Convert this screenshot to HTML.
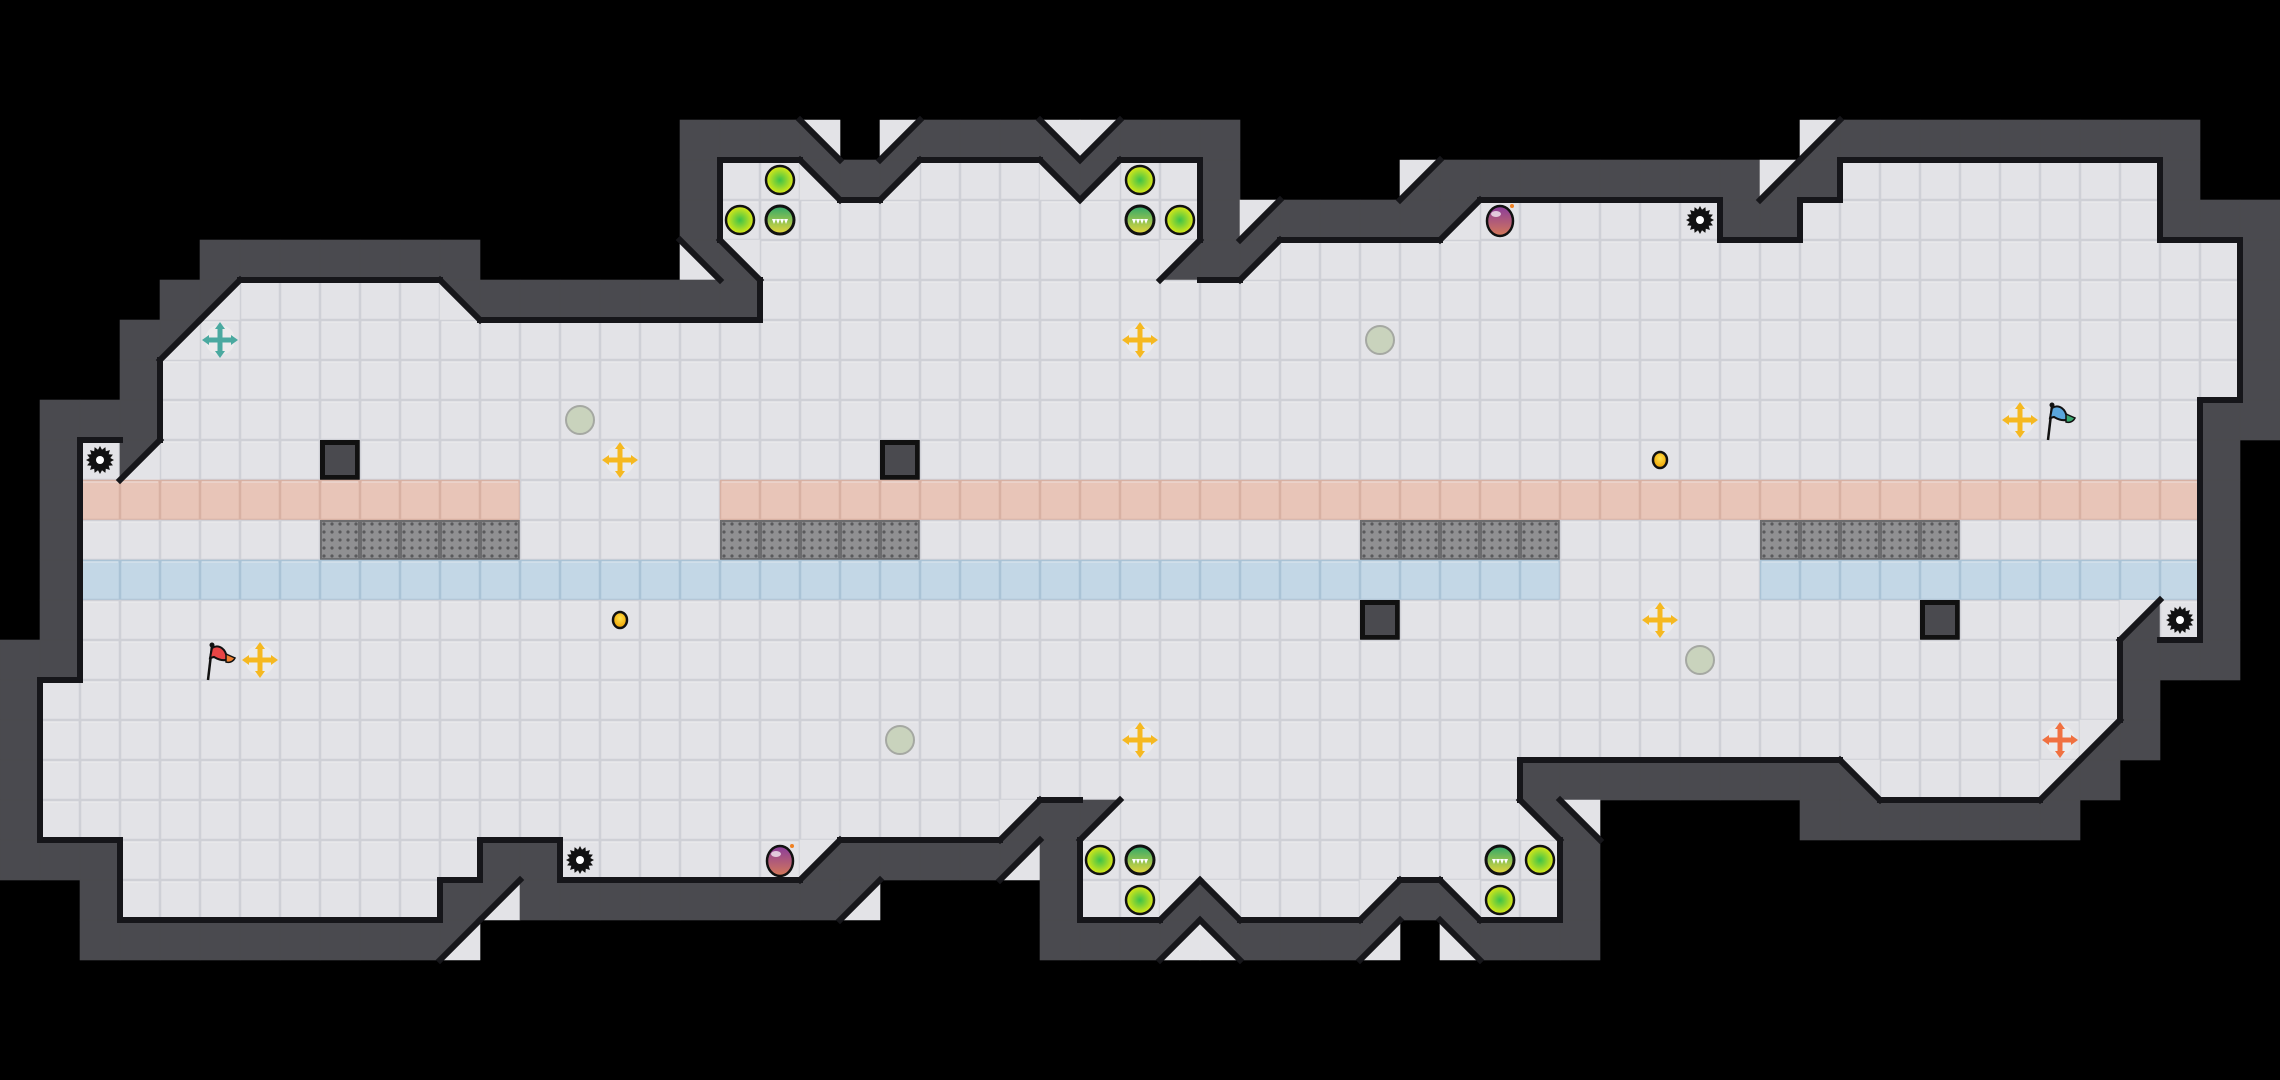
<!DOCTYPE html>
<html><head><meta charset="utf-8">
<style>
html,body{margin:0;padding:0;background:#000;width:2280px;height:1080px;overflow:hidden}
svg{display:block}
</style></head>
<body>
<svg id="s" xmlns="http://www.w3.org/2000/svg" width="2280" height="1080" viewBox="0 0 2280 1080">
<defs>
<pattern id="mesh" width="8" height="8" patternUnits="userSpaceOnUse">
<rect width="8" height="8" fill="#909092"/>
<circle cx="4" cy="4" r="1.6" fill="#5a5a5c"/>
</pattern>
<radialGradient id="lime" cx="50%" cy="50%" r="55%">
<stop offset="0" stop-color="#3cc24a"/><stop offset="1" stop-color="#f0ee10"/>
</radialGradient>
<linearGradient id="grn" x1="0" y1="0" x2="0" y2="1">
<stop offset="0" stop-color="#2fa86a"/><stop offset="1" stop-color="#e8d83a"/>
</linearGradient>
<linearGradient id="bomb" x1="0" y1="0" x2="0" y2="1">
<stop offset="0" stop-color="#8a3c9c"/><stop offset="1" stop-color="#d47858"/>
</linearGradient>
<radialGradient id="coin" cx="50%" cy="40%" r="60%">
<stop offset="0" stop-color="#ffe14a"/><stop offset="1" stop-color="#f0a000"/>
</radialGradient>
</defs>
<rect width="2280" height="1080" fill="#000"/>
<g id="g"></g>
</svg>
<script>
(function(){
var Wd=57,Ht=27,grid=[];
for(var r=0;r<Ht;r++){grid.push([]);for(var c=0;c<Wd;c++)grid[r].push(' ');}
function S(r,segs){segs.forEach(function(s){if(s.length==2){grid[r][s[0]]=s[1];}else{for(var c=s[0];c<=s[1];c++)grid[r][c]=s[2];}});}
S(3,[[17,19,'#'],[20,'A'],[22,'C'],[23,25,'#'],[26,'A'],[27,'C'],[28,30,'#'],[45,'C'],[46,54,'#']]);
S(4,[[17,'#'],[18,19,'.'],[20,'B'],[21,'#'],[22,'D'],[23,25,'.'],[26,'B'],[27,'D'],[28,29,'.'],[30,'#'],[35,'C'],[36,43,'#'],[44,'C'],[45,'#'],[46,53,'.'],[54,'#']]);
S(5,[[17,'#'],[18,29,'.'],[30,'#'],[31,'C'],[32,35,'#'],[36,'D'],[37,42,'.'],[43,44,'#'],[45,53,'.'],[54,56,'#']]);
S(6,[[5,11,'#'],[17,'B'],[18,'A'],[19,28,'.'],[29,'C'],[30,'#'],[31,'D'],[32,55,'.'],[56,'#']]);
S(7,[[4,'#'],[5,'D'],[6,10,'.'],[11,'B'],[12,18,'#'],[19,55,'.'],[56,'#']]);
S(8,[[3,'#'],[4,'D'],[5,55,'.'],[56,'#']]);
S(9,[[3,'#'],[4,55,'.'],[56,'#']]);
S(10,[[1,3,'#'],[4,54,'.'],[55,56,'#']]);
S(11,[[1,'#'],[2,'.'],[3,'D'],[4,54,'.'],[55,'#'],[8,'x'],[22,'x']]);
S(12,[[1,'#'],[2,12,'o'],[13,17,'.'],[18,54,'o'],[55,'#']]);
S(13,[[1,'#'],[2,54,'.'],[8,12,'m'],[18,22,'m'],[34,38,'m'],[44,48,'m'],[55,'#']]);
S(14,[[1,'#'],[2,38,'b'],[39,43,'.'],[44,54,'b'],[55,'#']]);
S(15,[[1,'#'],[2,52,'.'],[53,'C'],[54,'.'],[55,'#'],[34,'x'],[48,'x']]);
S(16,[[0,1,'#'],[2,52,'.'],[53,55,'#']]);
S(17,[[0,'#'],[1,52,'.'],[53,'#']]);
S(18,[[0,'#'],[1,51,'.'],[52,'C'],[53,'#']]);
S(19,[[0,'#'],[1,37,'.'],[38,45,'#'],[46,'A'],[47,50,'.'],[51,'C'],[52,'#']]);
S(20,[[0,'#'],[1,24,'.'],[25,'C'],[26,'#'],[27,'D'],[28,37,'.'],[38,'B'],[39,'A'],[45,51,'#']]);
S(21,[[0,2,'#'],[3,11,'.'],[12,13,'#'],[14,19,'.'],[20,'C'],[21,24,'#'],[25,'D'],[26,'#'],[27,38,'.'],[39,'#']]);
S(22,[[2,'#'],[3,10,'.'],[11,'#'],[12,'D'],[13,20,'#'],[21,'D'],[26,'#'],[27,28,'.'],[29,'C'],[30,'A'],[31,33,'.'],[34,'C'],[35,'#'],[36,'A'],[37,38,'.'],[39,'#']]);
S(23,[[2,10,'#'],[11,'D'],[26,28,'#'],[29,'D'],[30,'B'],[31,33,'#'],[34,'D'],[36,'B'],[37,39,'#']]);

var FL='#e3e3e7',WL='#4a4a4f',out=[];
var fill={'.':[FL,'#cfd0d6'],'o':['#e8c5b8','#d8b1a3'],'b':['#c3d7e6','#aac3d6'],'x':[FL,'#cfd0d6']};
function isF(ch){return '.obmx'.indexOf(ch)>=0;}
var diag={A:['\\','F','W'],B:['\\','W','F'],C:['/','F','W'],D:['/','W','F']};
function col(k){return k=='F'?FL:WL;}
for(var r=0;r<Ht;r++)for(var c=0;c<Wd;c++){
 var ch=grid[r][c],x=c*40,y=r*40;
 if(ch==' ')continue;
 if(fill[ch]){out.push('<rect x="'+(x+0.5)+'" y="'+(y+0.5)+'" width="39" height="39" fill="'+fill[ch][0]+'" stroke="'+fill[ch][1]+'" stroke-width="1.5"/>');
   out.push('<line x1="'+(x+2)+'" y1="'+(y+2)+'" x2="'+(x+38)+'" y2="'+(y+2)+'" stroke="#f2f2f4" stroke-width="1" opacity="0.6"/>');}
 if(ch=='m')out.push('<rect x="'+(x+1)+'" y="'+(y+1)+'" width="38" height="38" fill="url(#mesh)" stroke="#6c6c6e" stroke-width="2"/>');
 if(ch=='x')out.push('<rect x="'+(x+2.5)+'" y="'+(y+2.5)+'" width="35" height="35" fill="'+WL+'" stroke="#111" stroke-width="5"/>');
 if(ch=='#')out.push('<rect x="'+x+'" y="'+y+'" width="40" height="40" fill="'+WL+'" stroke="'+WL+'" stroke-width="0.6"/>');
 if(diag[ch]){var d=diag[ch],p1,p2,ln;
  if(d[0]=='\\'){p1=[x,y,x+40,y,x+40,y+40];p2=[x,y,x,y+40,x+40,y+40];ln=[x,y,x+40,y+40];}
  else{p1=[x,y,x+40,y,x,y+40];p2=[x+40,y,x+40,y+40,x,y+40];ln=[x+40,y,x,y+40];}
  out.push('<polygon points="'+p1.join(',')+'" fill="'+col(d[1])+'" stroke="'+col(d[1])+'" stroke-width="0.6"/>');
  out.push('<polygon points="'+p2.join(',')+'" fill="'+col(d[2])+'" stroke="'+col(d[2])+'" stroke-width="0.6"/>');
 }
}
var edges=[];
for(var r=0;r<Ht;r++)for(var c=0;c<Wd;c++){
 var ch=grid[r][c],x=c*40,y=r*40;
 if(ch=='#'){
  if(r>0&&isF(grid[r-1][c]))edges.push([x,y,x+40,y]);
  if(r<Ht-1&&isF(grid[r+1][c]))edges.push([x,y+40,x+40,y+40]);
  if(c>0&&isF(grid[r][c-1]))edges.push([x,y,x,y+40]);
  if(c<Wd-1&&isF(grid[r][c+1]))edges.push([x+40,y,x+40,y+40]);
 }
 if(diag[ch]){ if(diag[ch][0]=='\\')edges.push([x,y,x+40,y+40]);else edges.push([x+40,y,x,y+40]);}
}
edges.forEach(function(e){out.push('<line x1="'+e[0]+'" y1="'+e[1]+'" x2="'+e[2]+'" y2="'+e[3]+'" stroke="#16161a" stroke-width="6" stroke-linecap="square"/>');});

function cx(c){return c*40+20;}
function lime(c,r){out.push('<circle cx="'+cx(c)+'" cy="'+cx(r)+'" r="14" fill="url(#lime)" stroke="#111" stroke-width="2.5"/>');}
function gteeth(c,r){var X=cx(c),Y=cx(r);out.push('<circle cx="'+X+'" cy="'+Y+'" r="14" fill="url(#grn)" stroke="#111" stroke-width="3"/>');
 out.push('<path d="M'+(X-8)+' '+(Y-1)+'h16l-2 5l-2-5l-2 5l-2-5l-2 5l-2-5l-2 5z" fill="#fff"/>');}
function bomb(c,r){var X=cx(c),Y=cx(r);out.push('<ellipse cx="'+X+'" cy="'+(Y+1)+'" rx="13" ry="15" fill="url(#bomb)" stroke="#111" stroke-width="2.5"/><ellipse cx="'+(X-4)+'" cy="'+(Y-6)+'" rx="5" ry="3" fill="#fff" opacity="0.7"/><circle cx="'+(X+12)+'" cy="'+(Y-14)+'" r="2" fill="#f08020"/>');}
function gear(c,r){var X=cx(c),Y=cx(r),pts=[];for(var i=0;i<32;i++){var a=i*Math.PI/16,R=i%2?10.5:14;pts.push((X+R*Math.cos(a)).toFixed(1)+','+(Y+R*Math.sin(a)).toFixed(1));}
 out.push('<polygon points="'+pts.join(' ')+'" fill="#111"/><circle cx="'+X+'" cy="'+Y+'" r="4" fill="#fff"/>');}
function cross(c,r,colr){var X=cx(c),Y=cx(r);
 out.push('<circle cx="'+X+'" cy="'+Y+'" r="15" fill="#ececee" opacity="0.8"/>');
 out.push('<g fill="'+colr+'"><rect x="'+(X-13)+'" y="'+(Y-2.5)+'" width="26" height="5"/><rect x="'+(X-2.5)+'" y="'+(Y-13)+'" width="5" height="26"/>'+
 '<polygon points="'+X+','+(Y-18)+' '+(X-5)+','+(Y-11)+' '+(X+5)+','+(Y-11)+'"/><polygon points="'+X+','+(Y+18)+' '+(X-5)+','+(Y+11)+' '+(X+5)+','+(Y+11)+'"/>'+
 '<polygon points="'+(X-18)+','+Y+' '+(X-11)+','+(Y-5)+' '+(X-11)+','+(Y+5)+'"/><polygon points="'+(X+18)+','+Y+' '+(X+11)+','+(Y-5)+' '+(X+11)+','+(Y+5)+'"/></g>');}
function disc(c,r){out.push('<circle cx="'+cx(c)+'" cy="'+cx(r)+'" r="14" fill="#c9d3bd" stroke="#a5a8a2" stroke-width="2"/>');}
function coin(c,r){out.push('<ellipse cx="'+cx(c)+'" cy="'+cx(r)+'" rx="7" ry="8" fill="url(#coin)" stroke="#111" stroke-width="2.5"/>');}
function flag(c,r,f1,f2){var X=cx(c),Y=cx(r);
 out.push('<line x1="'+(X-12)+'" y1="'+(Y+20)+'" x2="'+(X-8)+'" y2="'+(Y-14)+'" stroke="#111" stroke-width="2.5"/><circle cx="'+(X-8)+'" cy="'+(Y-15)+'" r="2.5" fill="#111"/>');
 out.push('<path d="M'+(X-8)+' '+(Y-12)+'c6-4 12 0 14 6l5 4c-6 4-12 2-17-1l-4 1z" fill="'+f1+'" stroke="#111" stroke-width="2"/>');
 out.push('<path d="M'+(X+6)+' '+(Y-6)+'l9 4c-2 4-6 5-9 4z" fill="'+f2+'" stroke="#111" stroke-width="1.5"/>');}

lime(19,4);lime(18,5);gteeth(19,5);lime(28,4);gteeth(28,5);lime(29,5);
lime(27,21);gteeth(28,21);lime(28,22);gteeth(37,21);lime(38,21);lime(37,22);
bomb(37,5);bomb(19,21);
gear(42,5);gear(2,11);gear(14,21);gear(54,15);
var Y='#f5b820';
cross(5,8,'#4aa9a0');cross(15,11,Y);cross(28,8,Y);cross(50,10,Y);cross(6,16,Y);cross(41,15,Y);cross(28,18,Y);cross(51,18,'#f07040');
disc(14,10);disc(34,8);disc(42,16);disc(22,18);
coin(41,11);coin(15,15);
flag(5,16,'#e84545','#f08030');flag(51,10,'#5aa6dc','#3aa870');
document.getElementById('g').innerHTML=out.join('');
})();
</script>
</body></html>
